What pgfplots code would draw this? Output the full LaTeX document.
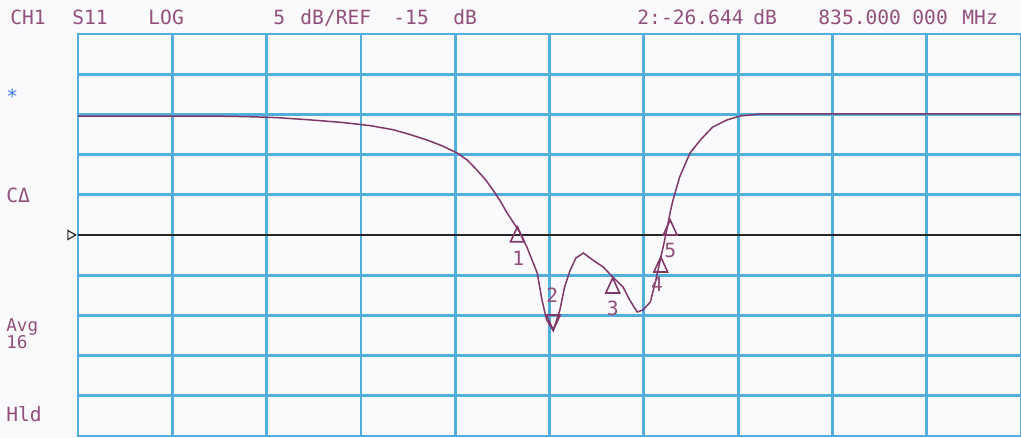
\documentclass[border=0pt]{standalone}
\usepackage{pgfplots}
\pgfplotsset{compat=1.18}
\usepackage{fontspec}
\setmonofont{DejaVu Sans Mono}
\definecolor{gridc}{RGB}{82,174,220}
\definecolor{tracec}{RGB}{128,56,104}
\definecolor{txtc}{RGB}{146,80,124}
\definecolor{bgc}{RGB}{250,249,252}
\newcommand{\tx}[3]{\node[anchor=base west, inner sep=0pt, text=txtc, font=\ttfamily\fontsize{9.8}{11}\selectfont] at ({#1*0.5pt},{(438-#2)*0.5pt}) {#3};}
\newcommand{\txs}[3]{\node[anchor=base west, inner sep=0pt, text=txtc, font=\ttfamily\fontsize{8.8}{10}\selectfont] at ({#1*0.5pt},{(438-#2)*0.5pt}) {#3};}
\begin{document}
\begin{tikzpicture}
\fill[bgc] (0,0) rectangle (510.5pt,219pt);
\path[use as bounding box] (0,0) rectangle (510.5pt,219pt);
\begin{axis}[at={(39pt,1pt)}, anchor=south west,
  width=471.5pt, height=201pt, scale only axis,
  xmin=0, xmax=10, ymin=-40, ymax=10,
  xtick={0,1,...,10}, ytick={-40,-35,...,10},
  xticklabels={}, yticklabels={},
  grid=major, major grid style={gridc, line width=1.4pt},
  axis line style={gridc, line width=1.4pt},
  tick style={draw=none}, clip=false]
% reference line
\addplot[black!85, line width=0.9pt] coordinates {(0,-15) (10,-15)};
\addplot[only marks, mark=triangle, mark size=2.6pt, mark options={rotate=-90, draw=black!85, fill=white, line width=0.6pt}] coordinates {(-0.08,-15)};
% trace
\addplot[tracec, line width=0.75pt] coordinates {
(0,-0.2) (1.40,-0.2) (1.80,-0.28) (2.11,-0.4) (2.46,-0.68) (2.80,-1.0) (3.10,-1.4) (3.34,-1.9)
(3.52,-2.5) (3.70,-3.18) (3.86,-3.9) (4.02,-4.80) (4.13,-5.7) (4.23,-6.92)
(4.32,-8.1) (4.40,-9.40) (4.48,-10.8) (4.55,-12.26) (4.62,-13.5) (4.67,-14.38)
(4.76,-16.49) (4.87,-19.73) (4.92,-23.08) (4.97,-25.57) (5.04,-26.9)
(5.11,-24.33) (5.16,-21.47) (5.22,-19.35) (5.28,-17.86) (5.36,-17.24)
(5.43,-17.86) (5.49,-18.36) (5.57,-18.98) (5.67,-20.22) (5.78,-21.47)
(5.85,-23.08) (5.93,-24.58) (5.99,-24.33) (6.07,-23.33) (6.12,-20.97)
(6.17,-18.36) (6.21,-16.24) (6.25,-14.0) (6.28,-12.14) (6.31,-10.65)
(6.38,-7.79) (6.49,-4.80) (6.60,-3.18) (6.73,-1.57) (6.88,-0.70)
(7.02,-0.20) (7.23,0.05) (10,0.05)};
% markers
\addplot[only marks, mark=triangle, mark size=5pt, mark options={draw=tracec, line width=0.8pt, xscale=0.8}] coordinates {
(4.66,-15.22) (5.67,-21.59) (6.18,-18.98) (6.28,-14.38)};
\addplot[only marks, mark=triangle, mark size=5pt, mark options={draw=tracec, line width=0.8pt, xscale=0.8, rotate=180}] coordinates {
(5.04,-25.57)};
\addplot[draw=none, mark=none, point meta=explicit symbolic,
  nodes near coords, nodes near coords align={center},
  every node near coord/.append style={text=txtc, inner sep=0pt, font=\ttfamily\fontsize{9.8}{11}\selectfont}] coordinates {
(4.67,-17.9) [1] (5.03,-22.5) [2] (5.67,-24.1) [3] (6.14,-21.2) [4] (6.28,-16.9) [5]};
\end{axis}
\tx{10}{25}{CH1}
\tx{72}{25}{S11}
\tx{148}{25}{LOG}
\tx{273}{25}{5}
\tx{300}{25}{dB/REF}
\tx{393}{25}{-15}
\tx{453}{25}{dB}
\tx{637}{25}{2:-26.644}
\tx{753}{25}{dB}
\tx{818}{25}{835.000}
\tx{912}{25}{000}
\tx{962}{25}{MHz}
\node[anchor=base west, inner sep=0pt, text=gridc!70!blue, font=\ttfamily\fontsize{9.8}{11}\selectfont] at ({6*0.5pt},{(438-104)*0.5pt}) {*};
\tx{6}{203}{CΔ}
\txs{6}{332}{Avg}
\txs{6}{349}{16}
\tx{6}{422}{Hld}
\end{tikzpicture}
\end{document}
